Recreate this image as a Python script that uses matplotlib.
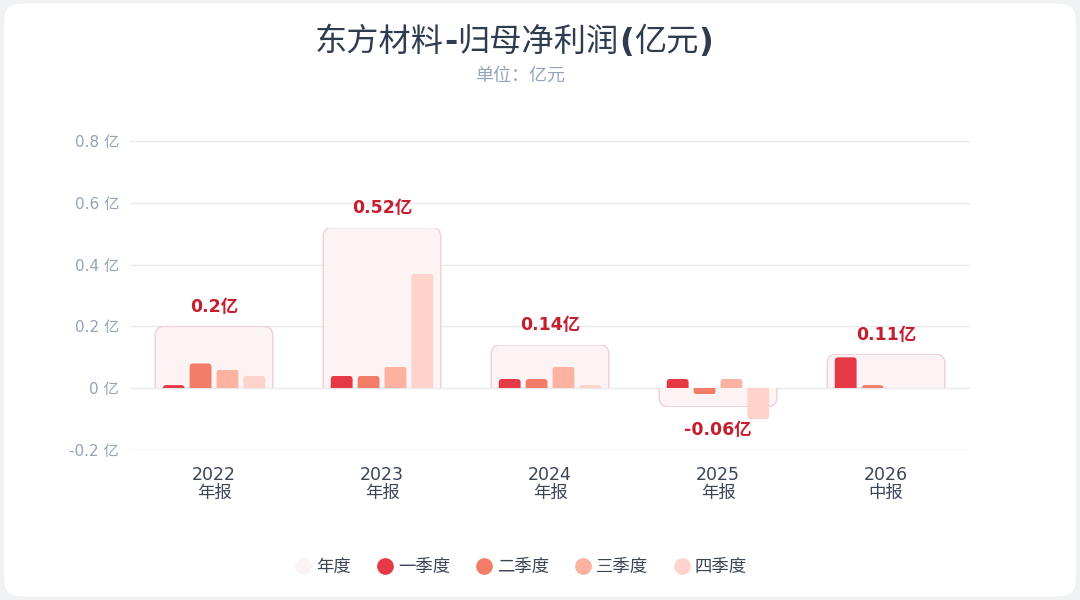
import numpy as np
import matplotlib
matplotlib.use("Agg")
import matplotlib.pyplot as plt
from matplotlib.patches import FancyBboxPatch, Rectangle
from matplotlib.lines import Line2D
import matplotlib.transforms as mtransforms

plt.rcParams['font.family'] = ['DejaVu Sans', 'Noto Sans CJK SC']

# data (亿元)
years = ["2022", "2023", "2024", "2025", "2026"]
periods = ["年报", "年报", "年报", "年报", "中报"]
annual = [0.2, 0.52, 0.14, -0.06, 0.11]
annual_labels = ["0.2亿", "0.52亿", "0.14亿", "-0.06亿", "0.11亿"]
q1 = [0.01, 0.04, 0.03, 0.03, 0.10]
q2 = [0.08, 0.04, 0.03, -0.02, 0.01]
q3 = [0.06, 0.07, 0.07, 0.03, np.nan]
q4 = [0.04, 0.37, 0.01, -0.10, np.nan]
yticks = [-0.2, 0, 0.2, 0.4, 0.6, 0.8]

q_names = ["一季度", "二季度", "三季度", "四季度"]
q_colors = ["#e63946", "#f17c67", "#fcb1a1", "#fdd3cb"]
box_fill = "#fbf3f4"
box_edge = "#f2d0d6"
label_col = "#c41e2f"
text_col = "#3b4556"
axis_col = "#94a3b8"
grid_col = "#e9e9ef"
title_col = "#2f3b4f"

W, H = 1080, 600
fig = plt.figure(figsize=(W / 100, H / 100), dpi=100)
fig.patch.set_facecolor("#f1f2f4")
card = FancyBboxPatch((0.004, 0.006), 0.992, 0.988,
                      boxstyle="round,pad=0,rounding_size=0.015",
                      transform=fig.transFigure, facecolor="white",
                      edgecolor="none", mutation_aspect=W / H, zorder=-10)
fig.patches.append(card)

ax = fig.add_axes([130 / W, 150 / H, 840 / W, 309 / H])
ax.set_zorder(2)
ax.set_facecolor("none")
ax.set_xlim(-0.5, 4.5)
ax.set_ylim(-0.2, 0.8)
for s in ax.spines.values():
    s.set_visible(False)
ax.set_yticks(yticks)
ax.set_yticklabels([f"{t:g} 亿" for t in yticks])
ax.tick_params(axis="y", length=0, pad=8, labelcolor=axis_col, labelsize=11)
ax.set_xticks([])
for t in yticks:
    ax.axhline(t, color=grid_col, lw=1, zorder=0)

# pixel -> data aspect for rounded corners
xpp = 5 / 840.0
ypp = 1.0 / 309.0
asp = ypp / xpp

x = np.arange(len(years))


def rounded(ax, x0, w, h, r_px, fc, ec, lw, z):
    # box rounded on the far end only: draw it mirrored over zero and clip
    if h == 0:
        return
    r = r_px * xpp
    rr = min(r, abs(h) / asp, w / 2)
    p = FancyBboxPatch((x0, -abs(h)), w, 2 * abs(h),
                       boxstyle=f"round,pad=0,rounding_size={rr}",
                       mutation_aspect=asp, fc=fc, ec=ec, lw=lw, zorder=z)
    ax.add_patch(p)
    clip = Rectangle((x0 - 0.05, min(0, h)), w + 0.1, abs(h),
                     transform=ax.transData, fc="none", ec="none")
    p.set_clip_path(clip)


# annual background boxes
box_w = 0.70
bars = ax.bar(x, annual, width=box_w, color="none")
for b in bars:
    h = b.get_height()
    b.remove()
    rounded(ax, b.get_x(), box_w, h, 9, box_fill, box_edge, 1.0, 1)

# quarterly bars
bw = 0.13
offs = [-0.24, -0.08, 0.08, 0.24]
for qs, off, col in zip([q1, q2, q3, q4], offs, q_colors):
    bs = ax.bar(x + off, qs, width=bw, color="none")
    for b, v in zip(bs, qs):
        b.remove()
        if np.isnan(v):
            continue
        rounded(ax, b.get_x(), bw, v, 3.5, col, "none", 0, 2)

# annual labels
for xi, v, lab in zip(x, annual, annual_labels):
    off = 14 if v >= 0 else -17
    ax.annotate(lab, (xi, v), xytext=(0, off), textcoords="offset points",
                ha="center", va="center", fontsize=12.5, fontweight="bold",
                color=label_col, zorder=5)

# category labels
tr = mtransforms.blended_transform_factory(ax.transData, fig.transFigure)
for xi, yr, pr in zip(x, years, periods):
    ax.text(xi, 1 - 475 / H, yr, transform=tr, ha="center", va="center",
            fontsize=12.5, color=text_col)
    ax.text(xi, 1 - 493 / H, pr, transform=tr, ha="center", va="center",
            fontsize=12.5, color=text_col)

# title: latin punctuation falls back to a bold face in the original
title_parts = [("东方材料", "normal"), ("-", "bold"), ("归母净利润", "normal"),
               ("(", "bold"), ("亿元", "normal"), (")", "bold")]
renderer = fig.canvas.get_renderer()
objs = []
for s, wgt in title_parts:
    t = fig.text(0, 1 - 42 / H, s, ha="left", va="center", fontsize=23.2,
                 fontweight=wgt, color=title_col)
    objs.append(t)
widths = [o.get_window_extent(renderer).width for o in objs]
cur = 514 - sum(widths) / 2
for o, wd in zip(objs, widths):
    o.set_x(cur / W)
    cur += wd

fig.text(520 / W, 1 - 76 / H, "单位：亿元", ha="center", va="center",
         fontsize=13, color=axis_col)

handles = [Line2D([], [], marker="o", ls="none", ms=11, mfc=box_fill, mec=box_fill)]
handles += [Line2D([], [], marker="o", ls="none", ms=11, mfc=c, mec=c) for c in q_colors]
fig.legend(handles, ["年度"] + q_names, loc="center", bbox_to_anchor=(520 / W, 1 - 567 / H),
           ncol=5, frameon=False, fontsize=12.5, labelcolor=text_col,
           handletextpad=0.15, columnspacing=1.35, handlelength=1.2)

fig.savefig("out.png", dpi=100, facecolor=fig.get_facecolor())
